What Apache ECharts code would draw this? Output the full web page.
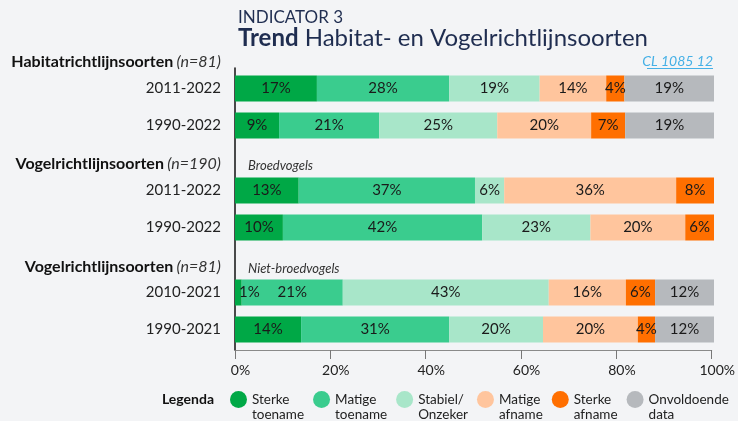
<!DOCTYPE html>
<html>
<head>
<meta charset="utf-8">
<script src="https://cdn.jsdelivr.net/npm/echarts@6/dist/echarts.min.js"></script>
<style>
html,body{margin:0;padding:0;background:#f3f4f6;}
#chart{width:738px;height:421px;}
</style>
</head>
<body>
<div id="chart"></div>
<script>
// ---- data ----
const groupTitles = ['Habitatrichtlijnsoorten', 'Vogelrichtlijnsoorten', 'Vogelrichtlijnsoorten'];
const groupN = ['(n=81)', '(n=190)', '(n=81)'];
const groupNotes = ['', 'Broedvogels', 'Niet-broedvogels'];
const periods = [['2011-2022', '1990-2022'], ['2011-2022', '1990-2022'], ['2010-2021', '1990-2021']];
const classNames = ['Sterke toename', 'Matige toename', 'Stabiel/Onzeker', 'Matige afname', 'Sterke afname', 'Onvoldoende data'];
const legendLabels = ['Sterke\ntoename', 'Matige\ntoename', 'Stabiel/\nOnzeker', 'Matige\nafname', 'Sterke\nafname', 'Onvoldoende\ndata'];
// values per row (6 rows, top to bottom), in %
const sterkeToename = [17.1, 9.2, 13.3, 10.0, 1.4, 13.8];
const matigeToename = [27.6, 20.9, 36.8, 41.6, 21.1, 30.9];
const stabielOnzeker = [18.9, 24.65, 6.1, 22.6, 43.0, 19.6];
const matigeAfname = [13.9, 19.6, 35.9, 19.8, 16.1, 19.8];
const sterkeAfname = [3.8, 7.1, 7.9, 6.0, 6.1, 3.6];
const onvoldoendeData = [18.7, 18.55, 0, 0, 12.3, 12.3];
const xTicks = [0, 20, 40, 60, 80, 100];
const titleSmall = 'INDICATOR 3';
const titleBold = 'Trend';
const titleRest = 'Habitat- en Vogelrichtlijnsoorten';
const sourceCode = 'CL 1085 12';

// ---- styles ----
const FONT = 'Lato';
const colors = ['#00a846', '#3acc8e', '#a8e6c9', '#ffc59d', '#ff6f00', '#b6b9bd'];
const seriesValues = [sterkeToename, matigeToename, stabielOnzeker, matigeAfname, sterkeAfname, onvoldoendeData];
const gridTops = [70, 172, 274];
const gridH = 74;
const gridLeft = 235, gridRight = 24;

const grids = [], xAxes = [], yAxes = [], series = [];
gridTops.forEach((t, g) => {
  grids.push({left: gridLeft, right: gridRight, top: t, height: gridH});
  xAxes.push({type: 'value', gridIndex: g, min: 0, max: 100, show: false});
  yAxes.push({
    type: 'category', gridIndex: g, data: periods[g], inverse: true,
    axisLine: {show: false}, axisTick: {show: false},
    axisLabel: {fontFamily: FONT, fontSize: 15, color: '#222', margin: 14}
  });
});
// axis-only grid
grids.push({left: gridLeft, right: gridRight, top: 68, height: 282});
xAxes.push({
  type: 'value', gridIndex: 3, min: xTicks[0], max: xTicks[xTicks.length - 1], interval: 20,
  axisLine: {show: true, lineStyle: {color: '#8a8a8a', width: 1}},
  axisTick: {show: true, length: 9, lineStyle: {color: '#777'}},
  splitLine: {show: false},
  axisLabel: {fontFamily: FONT, fontSize: 14, color: '#222', margin: 13, padding: [0, 0, 0, 11], formatter: '{value}%'}
});
yAxes.push({
  type: 'value', gridIndex: 3, show: true,
  axisLine: {show: true, lineStyle: {color: '#111', width: 1.5}},
  axisTick: {show: false}, axisLabel: {show: false}, splitLine: {show: false}
});

classNames.forEach((name, c) => {
  gridTops.forEach((t, g) => {
    const vals = seriesValues[c].slice(g * 2, g * 2 + 2);
    series.push({
      name: name, type: 'bar', stack: 'g' + g, xAxisIndex: g, yAxisIndex: g,
      barWidth: 26, itemStyle: {color: colors[c]},
      data: vals.map(v => v < 3 && v > 0 ? {value: v, label: {position: 'insideLeft', distance: 4}} : v),
      label: {
        show: true, position: 'inside', fontFamily: FONT, fontSize: 15, color: '#1a1a1a',
        formatter: p => p.value > 0 ? Math.round(p.value) + '%' : ''
      },
      emphasis: {disabled: true}, silent: true
    });
  });
});
series.push({type: 'bar', xAxisIndex: 3, yAxisIndex: 3, data: [], silent: true});

const graphics = [];
const headerY = [62, 164, 267];
groupTitles.forEach((t, g) => {
  graphics.push({
    type: 'text', x: 221, y: headerY[g],
    style: {
      text: '{b|' + t + '} {i|' + groupN[g] + '}', textAlign: 'right', textVerticalAlign: 'middle',
      rich: {
        b: {fontFamily: FONT, fontSize: 16, fontWeight: 'bold', fill: '#111', color: '#111'},
        i: {fontFamily: FONT, fontSize: 16, fontStyle: 'italic', fill: '#333', color: '#333'}
      }
    }
  });
  if (groupNotes[g]) {
    graphics.push({
      type: 'text', x: 248, y: headerY[g] + 2,
      style: {text: groupNotes[g], font: 'italic 13px ' + FONT, fill: '#333', textVerticalAlign: 'middle'}
    });
  }
});
graphics.push({
  type: 'text', x: 214, y: 399,
  style: {text: 'Legenda', font: 'bold 14px ' + FONT, fill: '#111', textAlign: 'right', textVerticalAlign: 'middle'}
});
graphics.push({
  type: 'text', x: 713, y: 61,
  style: {text: sourceCode, font: 'italic 14px ' + FONT, fill: '#45b0e6', textAlign: 'right', textVerticalAlign: 'middle'}
});
graphics.push({type: 'rect', shape: {x: 647, y: 68, width: 66, height: 1}, style: {fill: '#45b0e6'}});

const option = {
  backgroundColor: '#f3f4f6',
  animation: false,
  title: [
    {text: titleSmall, left: 233, top: 4, textStyle: {fontFamily: FONT, fontSize: 17, fontWeight: 'normal', color: '#1f2d50'}},
    {text: '{b|' + titleBold + '} ' + titleRest, left: 233, top: 21,
     textStyle: {fontFamily: FONT, fontSize: 24, fontWeight: 'normal', color: '#1f2d50',
       rich: {b: {fontFamily: FONT, fontSize: 24, fontWeight: 'bold', color: '#1f2d50'}}}}
  ],
  legend: {
    left: 230, top: 377, width: 600, padding: 0, itemGap: 9, itemWidth: 17, itemHeight: 17, icon: 'circle',
    data: classNames.map((n, i) => ({name: n, itemStyle: {color: colors[i]}})),
    formatter: name => ' \n' + legendLabels[classNames.indexOf(name)],
    textStyle: {fontFamily: FONT, fontSize: 13.5, color: '#222', lineHeight: 15},
    selectedMode: false
  },
  grid: grids, xAxis: xAxes, yAxis: yAxes, series: series,
  graphic: graphics
};
const chart = echarts.init(document.getElementById('chart'), null, {renderer: 'canvas'});
chart.setOption(option);
</script>
</body>
</html>
